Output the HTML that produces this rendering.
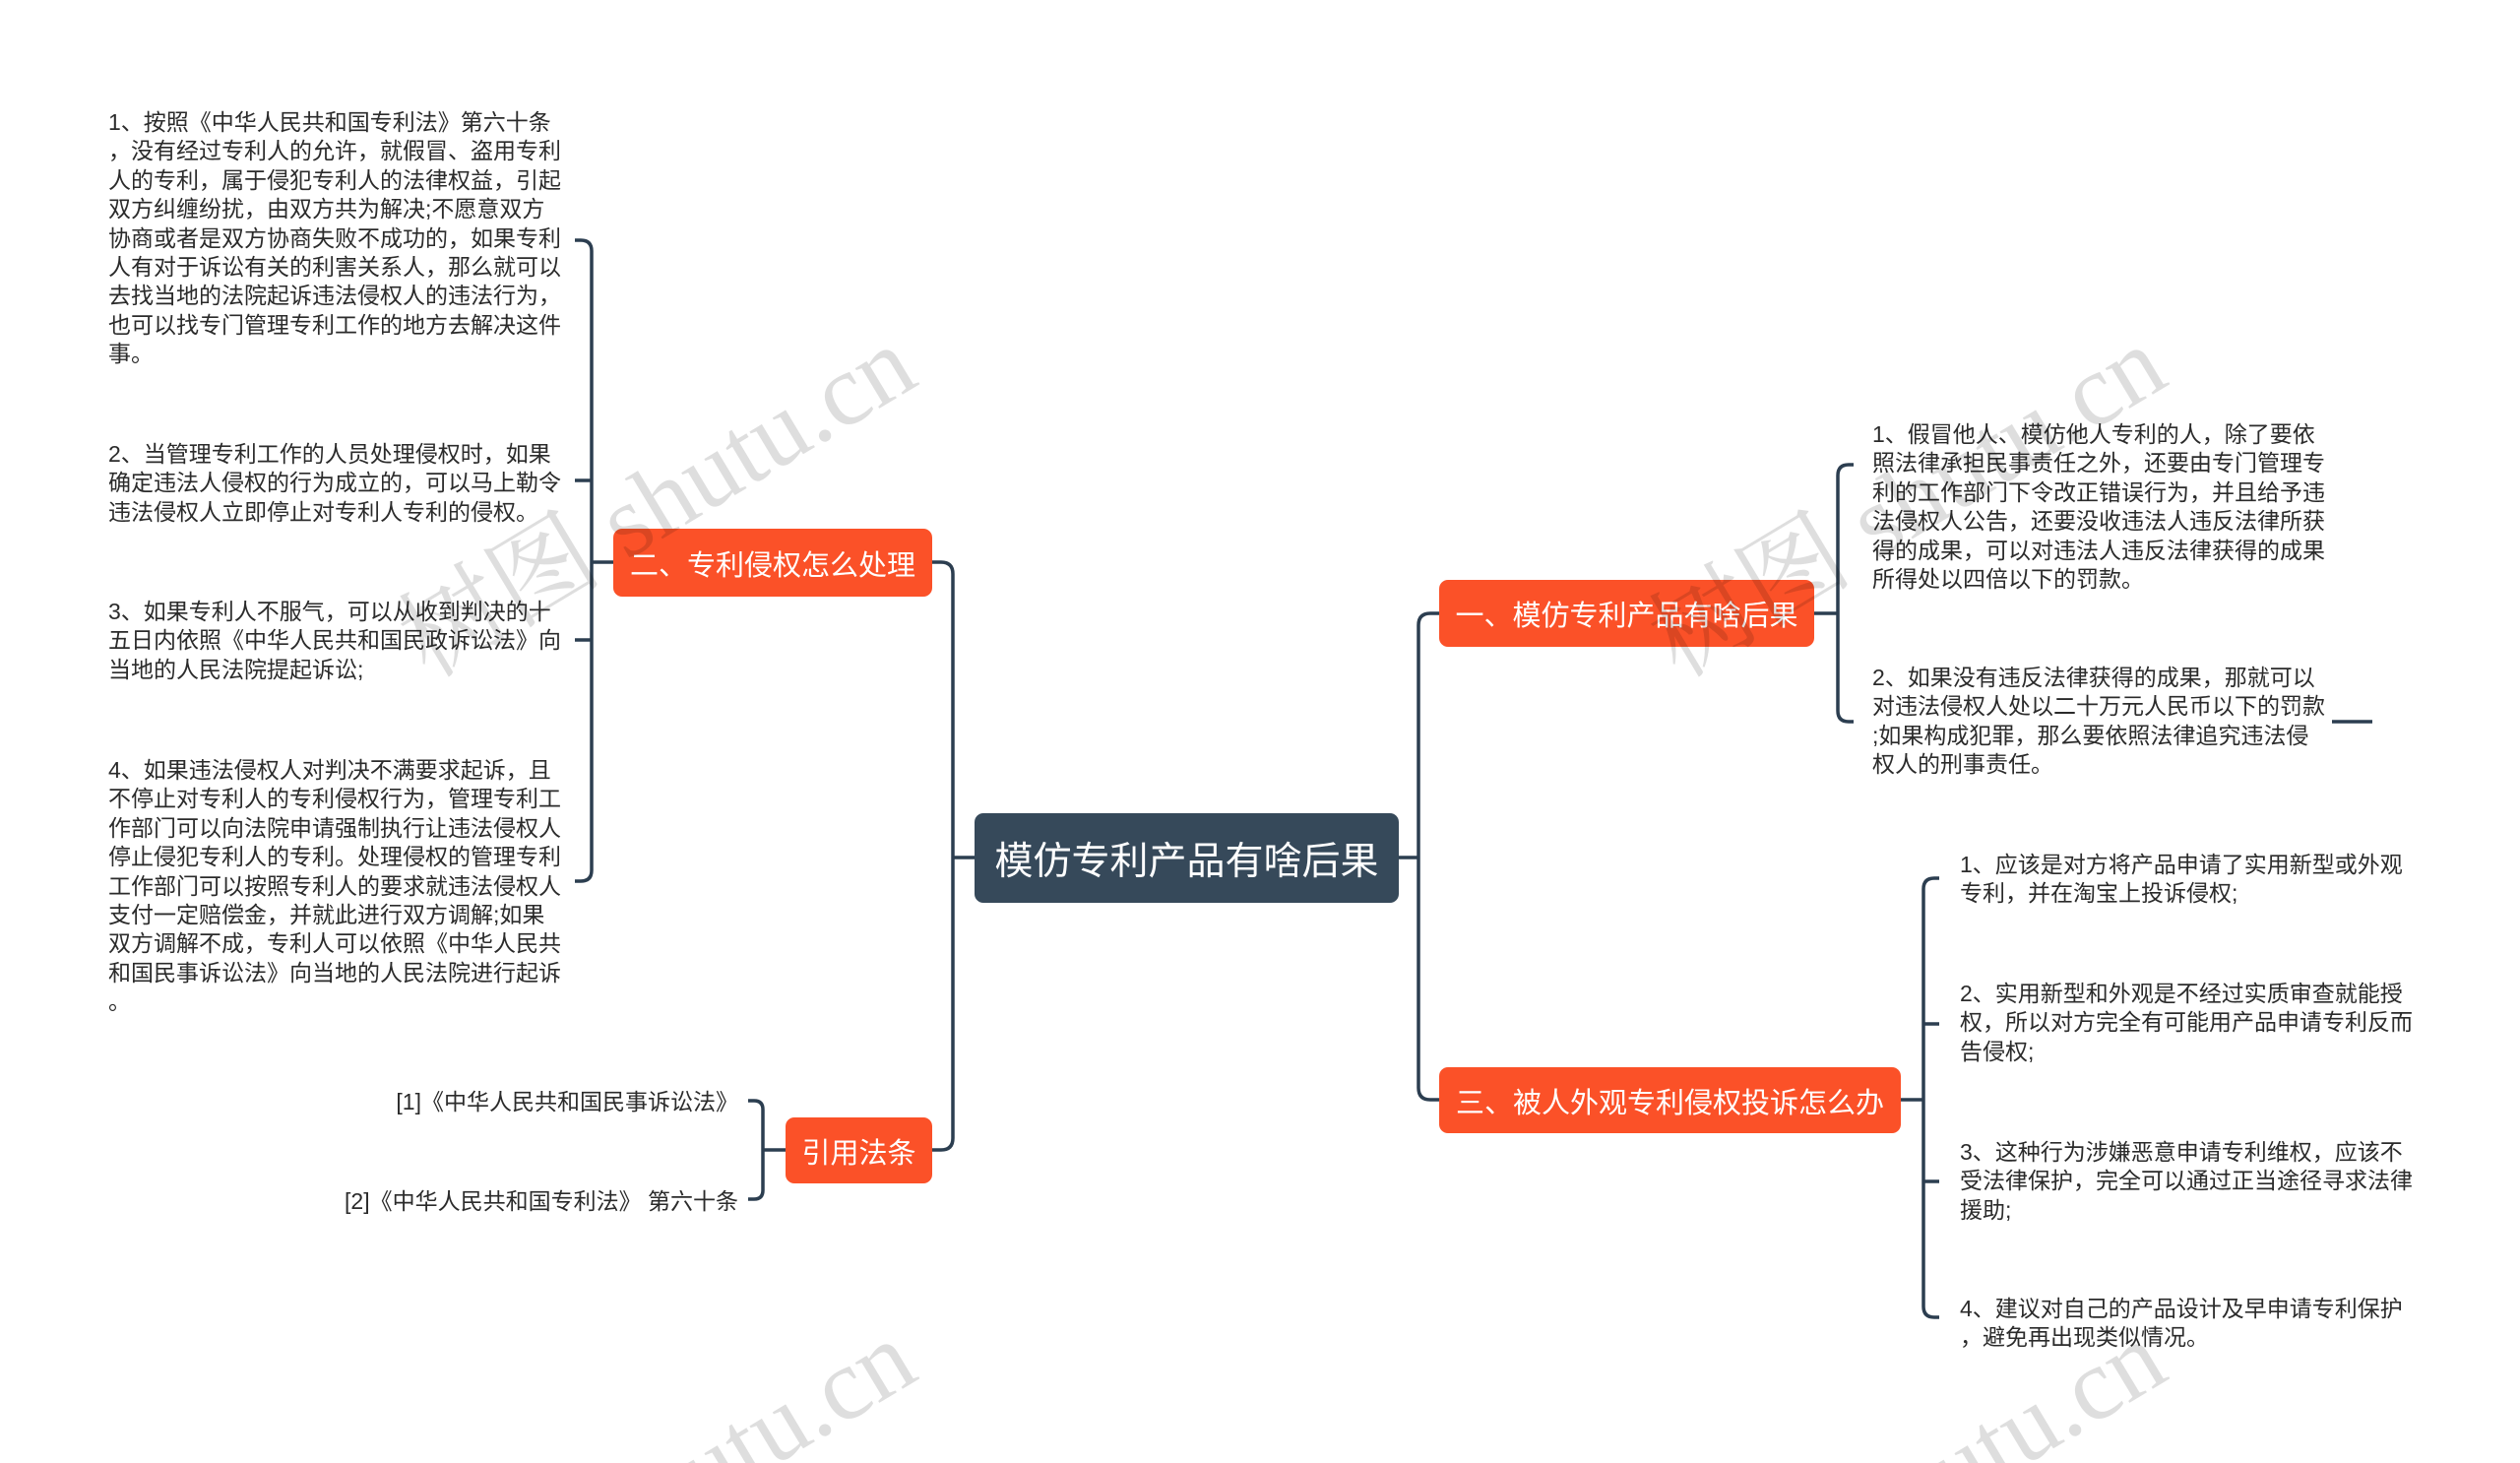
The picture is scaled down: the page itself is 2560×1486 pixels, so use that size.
<!DOCTYPE html>
<html><head><meta charset="utf-8"><style>
html,body{margin:0;padding:0;width:2560px;height:1486px;overflow:hidden;}
body{position:relative;background:#fff;font-family:"Liberation Sans","Noto Sans CJK SC",sans-serif;}
#wrap{position:absolute;left:0;top:0;width:2560px;height:1486px;overflow:hidden;}
.t{position:absolute;font-size:23px;line-height:29.4px;color:#2b2b2b;white-space:nowrap;}
.n{position:absolute;background:#fb5128;color:#fff;border-radius:9px;font-size:29px;display:flex;align-items:center;justify-content:center;white-space:nowrap;}
.c{position:absolute;background:#36495a;color:#fff;border-radius:9px;font-size:39px;display:flex;align-items:center;justify-content:center;}
svg{position:absolute;left:0;top:0;overflow:hidden;}
</style></head><body><div id="wrap">
<svg width="2560" height="1486" fill="none" stroke="#2c3e50" stroke-width="3.5">
<path d="M990 871 H968"/>
<path d="M947 571 H956 Q968 571 968 583 V1156 Q968 1168 956 1168 H944"/>
<path d="M623 571 H601"/>
<path d="M584 244 H590 Q601 244 601 255 V884 Q601 895 590 895 H584"/>
<path d="M584 488 H601 M584 650 H601"/>
<path d="M798 1168 H775"/>
<path d="M760 1118 H766 Q775 1118 775 1127 V1209 Q775 1218 766 1218 H760"/>
<path d="M1421 871 H1441"/>
<path d="M1462 623 H1453 Q1441 623 1441 635 V1105 Q1441 1117 1453 1117 H1462"/>
<path d="M1843 623 H1867"/>
<path d="M1883 472 H1878 Q1867 472 1867 483 V722 Q1867 733 1878 733 H1883"/>
<path d="M2369 733 H2410"/>
<path d="M1931 1117 H1954"/>
<path d="M1970 892 H1965 Q1954 892 1954 903 V1327 Q1954 1338 1965 1338 H1970"/>
<path d="M1954 1040 H1970 M1954 1200 H1970"/>
</svg>

<div class="c" style="left:990px;top:826px;width:431px;height:91px;">模仿专利产品有啥后果</div>
<div class="n" style="left:623px;top:537px;width:324px;height:69px;">二、专利侵权怎么处理</div>
<div class="n" style="left:798px;top:1135px;width:149px;height:67px;">引用法条</div>
<div class="n" style="left:1462px;top:589px;width:381px;height:68px;">一、模仿专利产品有啥后果</div>
<div class="n" style="left:1462px;top:1084px;width:469px;height:67px;">三、被人外观专利侵权投诉怎么办</div>

<div class="t" style="left:110px;top:110px;">1、按照《中华人民共和国专利法》第六十条<br>，没有经过专利人的允许，就假冒、盗用专利<br>人的专利，属于侵犯专利人的法律权益，引起<br>双方纠缠纷扰，由双方共为解决;不愿意双方<br>协商或者是双方协商失败不成功的，如果专利<br>人有对于诉讼有关的利害关系人，那么就可以<br>去找当地的法院起诉违法侵权人的违法行为，<br>也可以找专门管理专利工作的地方去解决这件<br>事。</div>
<div class="t" style="left:110px;top:447px;">2、当管理专利工作的人员处理侵权时，如果<br>确定违法人侵权的行为成立的，可以马上勒令<br>违法侵权人立即停止对专利人专利的侵权。</div>
<div class="t" style="left:110px;top:607px;">3、如果专利人不服气，可以从收到判决的十<br>五日内依照《中华人民共和国民政诉讼法》向<br>当地的人民法院提起诉讼;</div>
<div class="t" style="left:110px;top:768px;">4、如果违法侵权人对判决不满要求起诉，且<br>不停止对专利人的专利侵权行为，管理专利工<br>作部门可以向法院申请强制执行让违法侵权人<br>停止侵犯专利人的专利。处理侵权的管理专利<br>工作部门可以按照专利人的要求就违法侵权人<br>支付一定赔偿金，并就此进行双方调解;如果<br>双方调解不成，专利人可以依照《中华人民共<br>和国民事诉讼法》向当地的人民法院进行起诉<br>。</div>
<div class="t" style="right:1810px;top:1105px;">[1]《中华人民共和国民事诉讼法》</div>
<div class="t" style="right:1810px;top:1206px;">[2]《中华人民共和国专利法》 第六十条</div>

<div class="t" style="left:1902px;top:427px;">1、假冒他人、模仿他人专利的人，除了要依<br>照法律承担民事责任之外，还要由专门管理专<br>利的工作部门下令改正错误行为，并且给予违<br>法侵权人公告，还要没收违法人违反法律所获<br>得的成果，可以对违法人违反法律获得的成果<br>所得处以四倍以下的罚款。</div>
<div class="t" style="left:1902px;top:674px;">2、如果没有违反法律获得的成果，那就可以<br>对违法侵权人处以二十万元人民币以下的罚款<br>;如果构成犯罪，那么要依照法律追究违法侵<br>权人的刑事责任。</div>
<div class="t" style="left:1991px;top:864px;">1、应该是对方将产品申请了实用新型或外观<br>专利，并在淘宝上投诉侵权;</div>
<div class="t" style="left:1991px;top:995px;">2、实用新型和外观是不经过实质审查就能授<br>权，所以对方完全有可能用产品申请专利反而<br>告侵权;</div>
<div class="t" style="left:1991px;top:1156px;">3、这种行为涉嫌恶意申请专利维权，应该不<br>受法律保护，完全可以通过正当途径寻求法律<br>援助;</div>
<div class="t" style="left:1991px;top:1315px;">4、建议对自己的产品设计及早申请专利保护<br>，避免再出现类似情况。</div>

<svg width="2560" height="1486" style="pointer-events:none">
<g font-family="Liberation Serif, Noto Serif CJK SC, serif" font-size="104" fill="rgba(0,0,0,0.13)" text-anchor="middle" dominant-baseline="central">
<text x="668" y="510" transform="rotate(-31 668 510)">树图 shutu.cn</text>
<text x="1938" y="510" transform="rotate(-31 1938 510)">树图 shutu.cn</text>
<text x="668" y="1520" transform="rotate(-31 668 1520)">树图 shutu.cn</text>
<text x="1938" y="1520" transform="rotate(-31 1938 1520)">树图 shutu.cn</text>
</g>
</svg>
</div></body></html>
